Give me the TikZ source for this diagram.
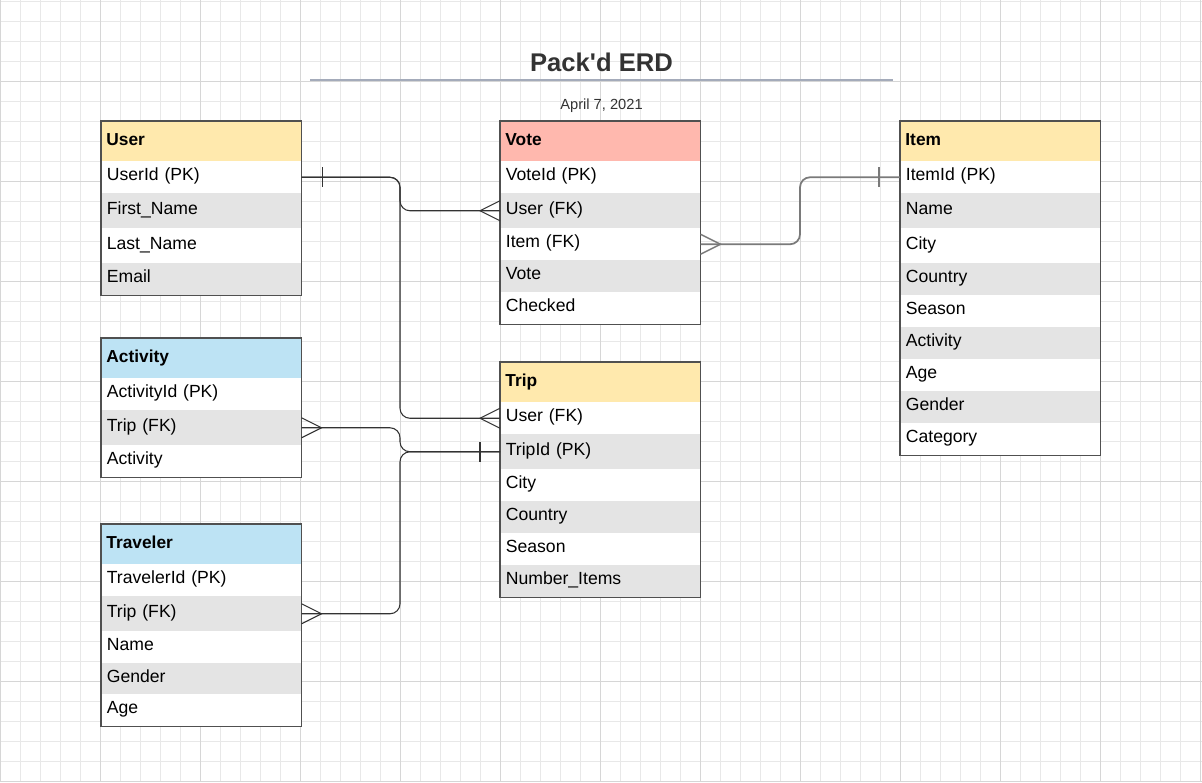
\documentclass[tikz,border=0pt]{standalone}
\usepackage{fontspec}
\setmainfont{Liberation Sans}
\usetikzlibrary{calc}
\definecolor{gridminor}{HTML}{E8E8E8}
\definecolor{gridmajor}{HTML}{D6D6D6}
\definecolor{hyellow}{HTML}{FFE9AD}
\definecolor{hred}{HTML}{FFB8AE}
\definecolor{hblue}{HTML}{BDE3F4}
\definecolor{rowgray}{HTML}{E4E4E4}
\definecolor{edge}{HTML}{505050}
\definecolor{ink}{HTML}{333333}
\definecolor{titleline}{HTML}{A4ABBA}
\definecolor{conntwo}{HTML}{7A7A7A}
\tikzset{
  cell/.style={anchor=north west, inner xsep=4.2pt, inner ysep=0pt, text width=141.6pt,
    align=left, text height=9.5pt, text depth=4pt, minimum width=150pt,
    font=\fontsize{13.2}{15}\selectfont, text=black},
  hdr/.style={cell, font=\fontsize{13}{15}\selectfont\bfseries, inner xsep=3.6pt, text width=142.8pt, draw=edge, line width=0.9pt},
  frame/.style={draw=edge, line width=0.9pt},
  rel/.style={draw=ink, line width=0.8pt, rounded corners=7.5pt},
  reltwo/.style={draw=conntwo, line width=1.3pt, rounded corners=7.5pt},
  crow/.style={draw=ink, line width=0.8pt},
  crowtwo/.style={draw=conntwo, line width=1.1pt},
  tick/.style={draw=ink, line width=0.8pt},
  ticktwo/.style={draw=conntwo, line width=1.1pt},
}
\newcommand\cellrow[6]{\node[cell, fill=#5, minimum height={(#4-#3)*0.75pt}] (#1) at (#2,#3) {#6};}
\newcommand\hdrrow[6]{\node[hdr, fill=#5, minimum height={(#4-#3)*0.75pt}] (#1) at (#2,#3) {#6};}
\begin{document}
\begin{tikzpicture}[x=0.75pt, y=-0.75pt]
\useasboundingbox (0,0) rectangle (1202,782);
\fill[white] (0,0) rectangle (1202,782);
% grid
\foreach \x in {0,20,...,1200} \draw[gridminor, line width=0.75pt] (\x,0) -- (\x,782);
\foreach \y in {1,21,...,781} \draw[gridminor, line width=0.75pt] (0,\y) -- (1202,\y);
\foreach \x in {0,100,...,1200} \draw[gridmajor, line width=0.75pt] (\x,0) -- (\x,782);
\foreach \y in {81,181,...,781} \draw[gridmajor, line width=0.75pt] (0,\y) -- (1202,\y);

% title
\node[font=\fontsize{19.2}{22}\selectfont\bfseries, text=ink] (title) at (601.5,62) {Pack\textquotesingle d ERD};
\draw[titleline, line width=1.5pt] (310,80) -- (893,80);
\node[font=\fontsize{11}{13}\selectfont, text=ink] (date) at (601.5,106) {April 7, 2021};

% User
\hdrrow{user-h}{101}{121}{161}{hyellow}{User}
\cellrow{user-id}{101}{161}{193}{white}{UserId (PK)}
\cellrow{user-fn}{101}{193}{228}{rowgray}{First\_Name}
\cellrow{user-ln}{101}{228}{263}{white}{Last\_Name}
\cellrow{user-em}{101}{263}{295}{rowgray}{Email}
\draw[frame] (user-h.north west) rectangle (user-em.south east);

% Vote
\hdrrow{vote-h}{500}{121}{161}{hred}{Vote}
\cellrow{vote-id}{500}{161}{193}{white}{VoteId (PK)}
\cellrow{vote-user}{500}{193}{228}{rowgray}{User (FK)}
\cellrow{vote-item}{500}{228}{260}{white}{Item (FK)}
\cellrow{vote-vote}{500}{260}{292}{rowgray}{Vote}
\cellrow{vote-chk}{500}{292}{324}{white}{Checked}
\draw[frame] (vote-h.north west) rectangle (vote-chk.south east);

% Item
\hdrrow{item-h}{900}{121}{161}{hyellow}{Item}
\cellrow{item-id}{900}{161}{193}{white}{ItemId (PK)}
\cellrow{item-name}{900}{193}{228}{rowgray}{Name}
\cellrow{item-city}{900}{228}{263}{white}{City}
\cellrow{item-country}{900}{263}{295}{rowgray}{Country}
\cellrow{item-season}{900}{295}{327}{white}{Season}
\cellrow{item-act}{900}{327}{359}{rowgray}{Activity}
\cellrow{item-age}{900}{359}{391}{white}{Age}
\cellrow{item-gender}{900}{391}{423}{rowgray}{Gender}
\cellrow{item-cat}{900}{423}{455}{white}{Category}
\draw[frame] (item-h.north west) rectangle (item-cat.south east);

% Activity
\hdrrow{act-h}{101}{338}{378}{hblue}{Activity}
\cellrow{act-id}{101}{378}{410}{white}{ActivityId (PK)}
\cellrow{act-trip}{101}{410}{445}{rowgray}{Trip (FK)}
\cellrow{act-act}{101}{445}{477}{white}{Activity}
\draw[frame] (act-h.north west) rectangle (act-act.south east);

% Trip
\hdrrow{trip-h}{500}{362}{402}{hyellow}{Trip}
\cellrow{trip-user}{500}{402}{434}{white}{User (FK)}
\cellrow{trip-id}{500}{434}{469}{rowgray}{TripId (PK)}
\cellrow{trip-city}{500}{469}{501}{white}{City}
\cellrow{trip-country}{500}{501}{533}{rowgray}{Country}
\cellrow{trip-season}{500}{533}{565}{white}{Season}
\cellrow{trip-num}{500}{565}{597}{rowgray}{Number\_Items}
\draw[frame] (trip-h.north west) rectangle (trip-num.south east);

% Traveler
\hdrrow{trav-h}{101}{524}{564}{hblue}{Traveler}
\cellrow{trav-id}{101}{564}{596}{white}{TravelerId (PK)}
\cellrow{trav-trip}{101}{596}{631}{rowgray}{Trip (FK)}
\cellrow{trav-name}{101}{631}{663}{white}{Name}
\cellrow{trav-gender}{101}{663}{694}{rowgray}{Gender}
\cellrow{trav-age}{101}{694}{726}{white}{Age}
\draw[frame] (trav-h.north west) rectangle (trav-age.south east);

% connector buses
\coordinate (busL) at (400,0);
\coordinate (busR) at (800,0);

% User -> Vote, User -> Trip
\draw[rel] (user-id.east) -- (user-id.east -| busL) -- (busL |- vote-user.west) -- (vote-user.west);
\draw[rel] (user-id.east) -- (user-id.east -| busL) -- (busL |- trip-user.west) -- (trip-user.west);
\draw[tick] ($(user-id.east)+(21,-10)$) -- ($(user-id.east)+(21,10)$);
\draw[crow] ($(vote-user.west)+(0,-10)$) -- ($(vote-user.west)+(-20,0)$) -- ($(vote-user.west)+(0,10)$);
\draw[crow] ($(trip-user.west)+(0,-10)$) -- ($(trip-user.west)+(-20,0)$) -- ($(trip-user.west)+(0,10)$);

% Activity -> Trip, Traveler -> Trip
\draw[rel] (act-trip.east) -- (act-trip.east -| busL) -- (busL |- trip-id.west) -- (trip-id.west);
\draw[rel] (trav-trip.east) -- (trav-trip.east -| busL) -- (busL |- trip-id.west) -- (trip-id.west);
\draw[crow] ($(act-trip.east)+(0,-10)$) -- ($(act-trip.east)+(20,0)$) -- ($(act-trip.east)+(0,10)$);
\draw[crow] ($(trav-trip.east)+(0,-10)$) -- ($(trav-trip.east)+(20,0)$) -- ($(trav-trip.east)+(0,10)$);
\draw[tick] ($(trip-id.west)+(-20,-10)$) -- ($(trip-id.west)+(-20,10)$);

% Vote -> Item
\draw[reltwo] (vote-item.east) -- (vote-item.east -| busR) -- (busR |- item-id.west) -- (item-id.west);
\draw[crowtwo] ($(vote-item.east)+(0,-10)$) -- ($(vote-item.east)+(20,0)$) -- ($(vote-item.east)+(0,10)$);
\draw[ticktwo] ($(item-id.west)+(-21,-10)$) -- ($(item-id.west)+(-21,10)$);
\end{tikzpicture}
\end{document}
